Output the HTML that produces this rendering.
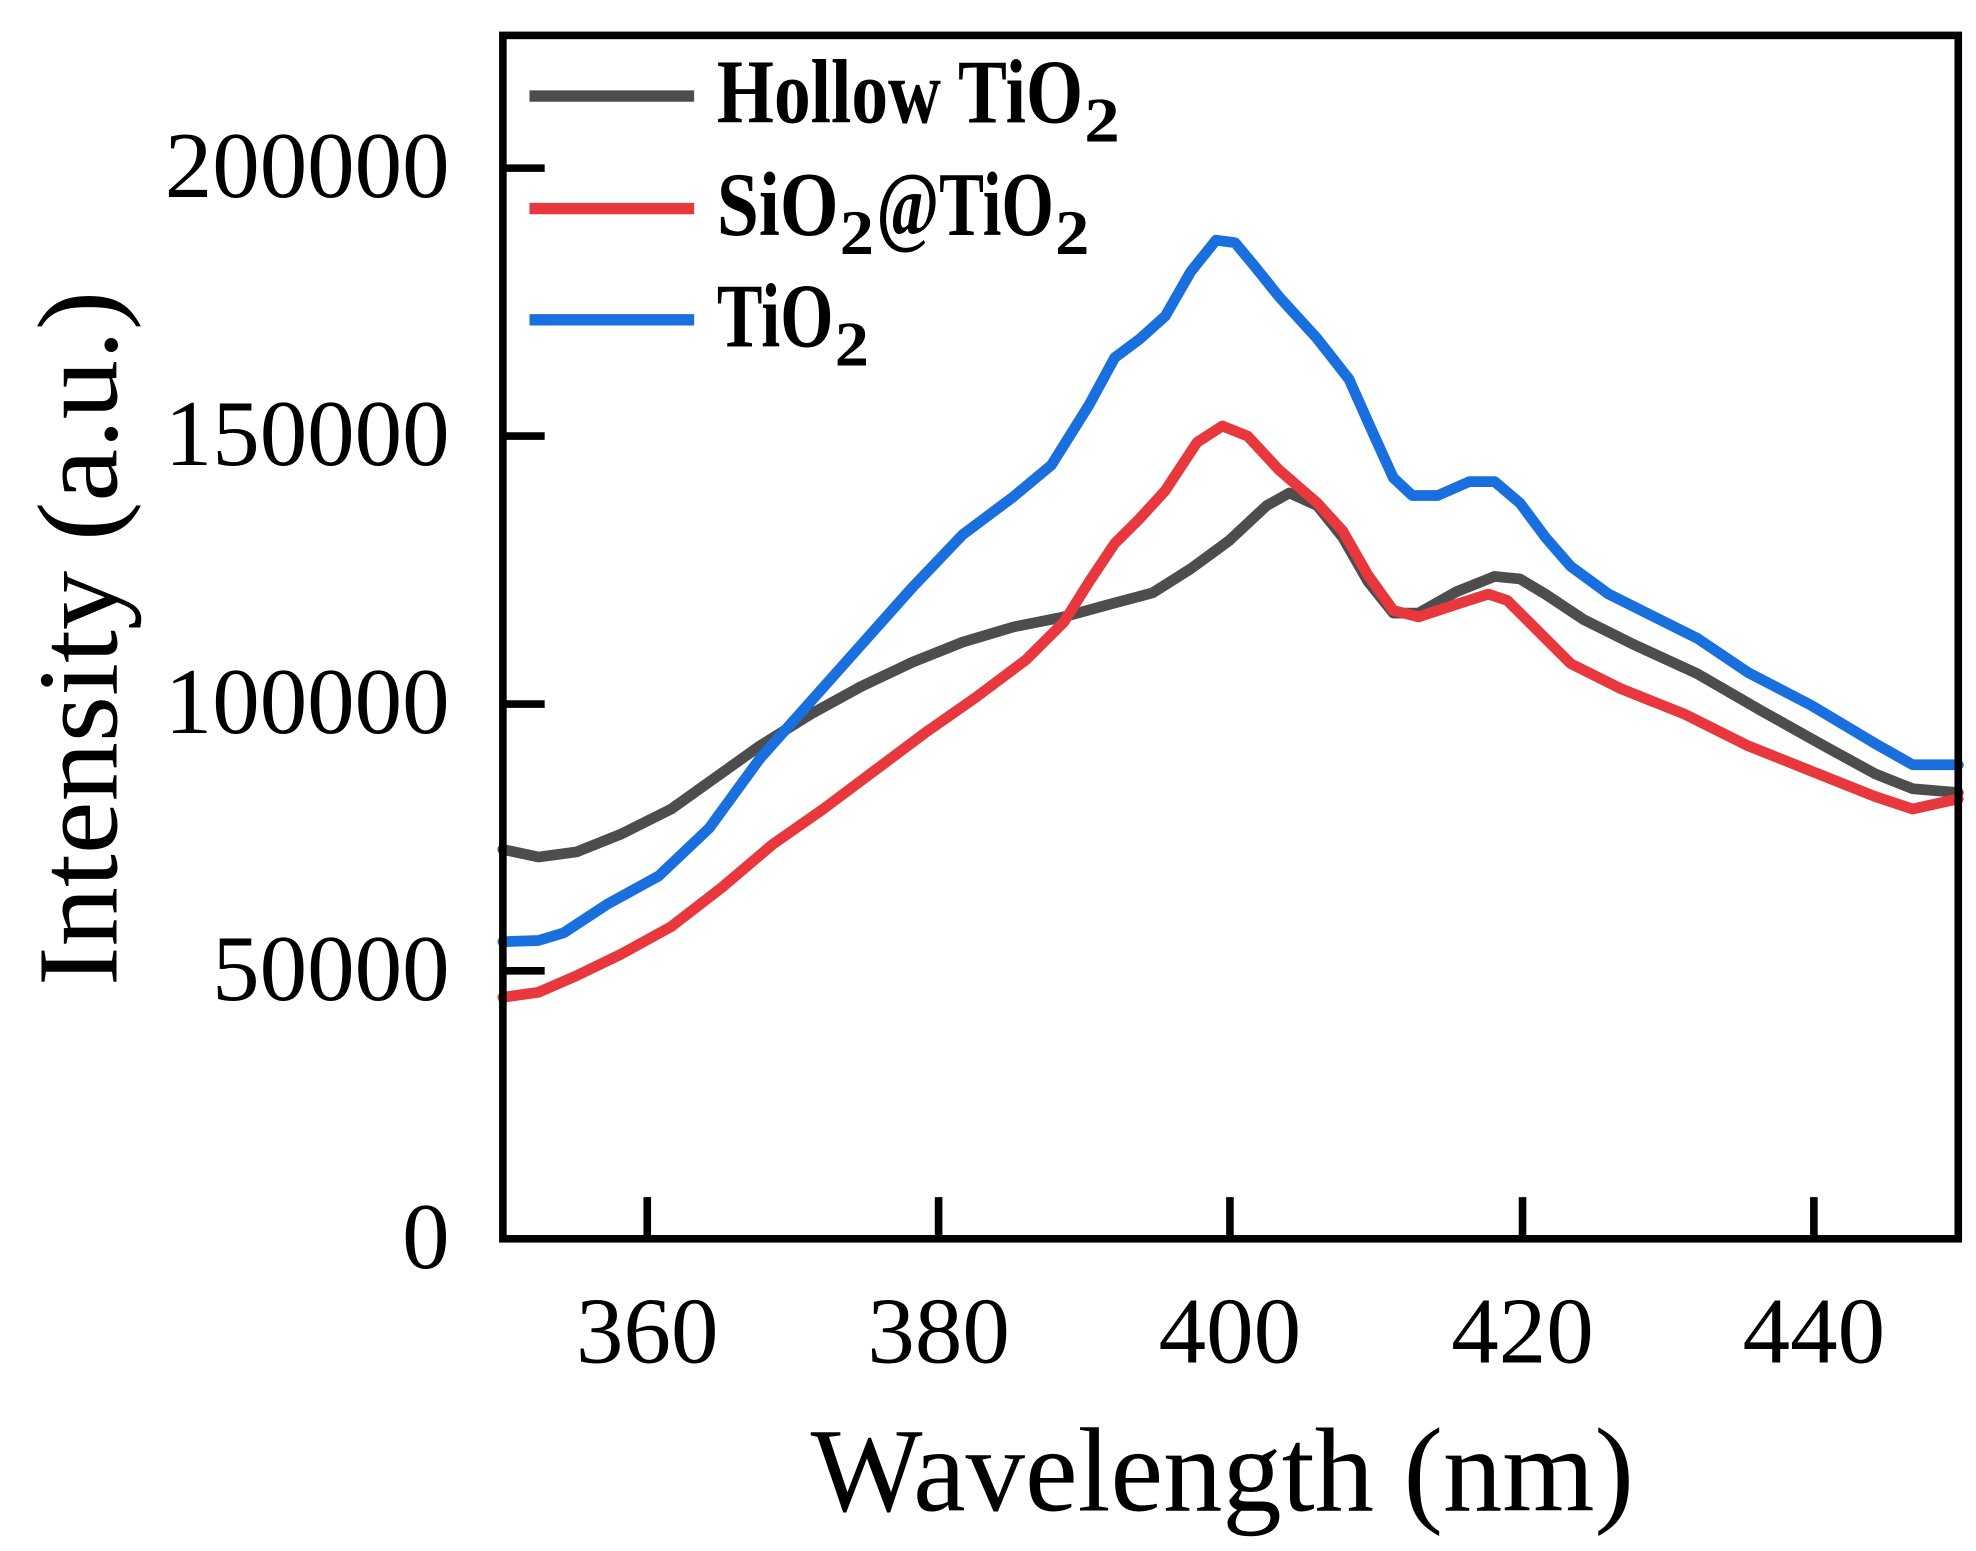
<!DOCTYPE html>
<html><head><meta charset="utf-8"><style>html,body{margin:0;padding:0;background:#fff}svg{display:block}</style></head>
<body>
<svg width="1976" height="1551" viewBox="0 0 1560 1227" preserveAspectRatio="none" xmlns="http://www.w3.org/2000/svg" font-family="Liberation Serif, serif">
<rect width="1560" height="1227" fill="#fff"/>
<g fill="none" stroke-width="8.5" stroke-linejoin="round" stroke-linecap="round">
<polyline stroke="#4d4d4d" points="397,672 425,678 455,674 490,660 530,640 565,615 600,590 640,565 680,543 720,524 760,508 800,496 840,488 880,477 910,469 940,450 970,428 1000,400 1018,390 1040,400 1060,425 1080,460 1100,485 1120,485 1150,468 1180,456 1200,458 1220,470 1250,490 1290,510 1340,533 1390,562 1440,590 1480,612 1510,624 1546,627"/>
<polyline stroke="#e8383d" points="397,789 425,785 455,772 490,755 530,733 570,702 610,668 650,640 690,610 730,580 770,552 810,522 840,492 860,460 880,430 900,410 920,388 945,350 965,337 985,345 1010,372 1040,398 1060,420 1080,455 1100,483 1120,488 1150,478 1175,470 1190,475 1210,495 1240,525 1280,545 1330,565 1380,590 1430,610 1480,630 1510,640 1546,632"/>
<polyline stroke="#1a6fdf" points="397,745 425,744 445,738 480,715 520,693 560,655 600,600 640,555 680,510 720,465 760,423 800,393 830,368 860,320 880,283 900,268 920,250 940,215 960,190 975,192 990,210 1010,235 1040,268 1065,300 1085,345 1100,378 1115,392 1135,392 1160,381 1180,381 1200,398 1220,425 1240,448 1270,470 1300,485 1340,505 1380,532 1430,558 1480,588 1510,605 1546,605"/>
</g>
<rect x="397" y="28" width="1149" height="952" fill="none" stroke="#000" stroke-width="6"/>
<g stroke="#000" stroke-width="6">
<line x1="397" y1="768" x2="430" y2="768"/><line x1="397" y1="557" x2="430" y2="557"/><line x1="397" y1="345" x2="430" y2="345"/><line x1="397" y1="133" x2="430" y2="133"/>
<line x1="511" y1="980" x2="511" y2="947"/><line x1="741" y1="980" x2="741" y2="947"/><line x1="971" y1="980" x2="971" y2="947"/><line x1="1202" y1="980" x2="1202" y2="947"/><line x1="1432" y1="980" x2="1432" y2="947"/>
</g>
<g font-size="75" text-anchor="end">
<text x="355" y="1003">0</text><text x="355" y="791">50000</text><text x="355" y="580">100000</text><text x="355" y="368">150000</text><text x="355" y="156">200000</text>
</g>
<g font-size="75" text-anchor="middle">
<text x="511" y="1078">360</text><text x="741" y="1078">380</text><text x="971" y="1078">400</text><text x="1202" y="1078">420</text><text x="1432" y="1078">440</text>
</g>
<text x="640" y="1195" font-size="95" textLength="650" lengthAdjust="spacingAndGlyphs">Wavelength (nm)</text>
<text transform="translate(92,780) rotate(-90)" font-size="90" textLength="550" lengthAdjust="spacingAndGlyphs">Intensity (a.u.)</text>
<g stroke-width="9">
<line x1="418" y1="76" x2="548" y2="76" stroke="#4d4d4d"/>
<line x1="418" y1="165" x2="548" y2="165" stroke="#e8383d"/>
<line x1="418" y1="253" x2="548" y2="253" stroke="#1a6fdf"/>
</g>
<g font-weight="bold" font-size="72">
<text x="566" y="97" textLength="289" lengthAdjust="spacingAndGlyphs">Hollow TiO</text>
<text x="856" y="112" font-size="50" textLength="28" lengthAdjust="spacingAndGlyphs">2</text>
<text x="566" y="186" textLength="96" lengthAdjust="spacingAndGlyphs">SiO</text>
<text x="663" y="201" font-size="50" textLength="27" lengthAdjust="spacingAndGlyphs">2</text>
<text x="692" y="186" textLength="140" lengthAdjust="spacingAndGlyphs">@TiO</text>
<text x="833" y="201" font-size="50" textLength="27" lengthAdjust="spacingAndGlyphs">2</text>
<text x="566" y="274" textLength="92" lengthAdjust="spacingAndGlyphs">TiO</text>
<text x="659" y="289" font-size="50" textLength="27" lengthAdjust="spacingAndGlyphs">2</text>
</g>
</svg>
</body></html>
